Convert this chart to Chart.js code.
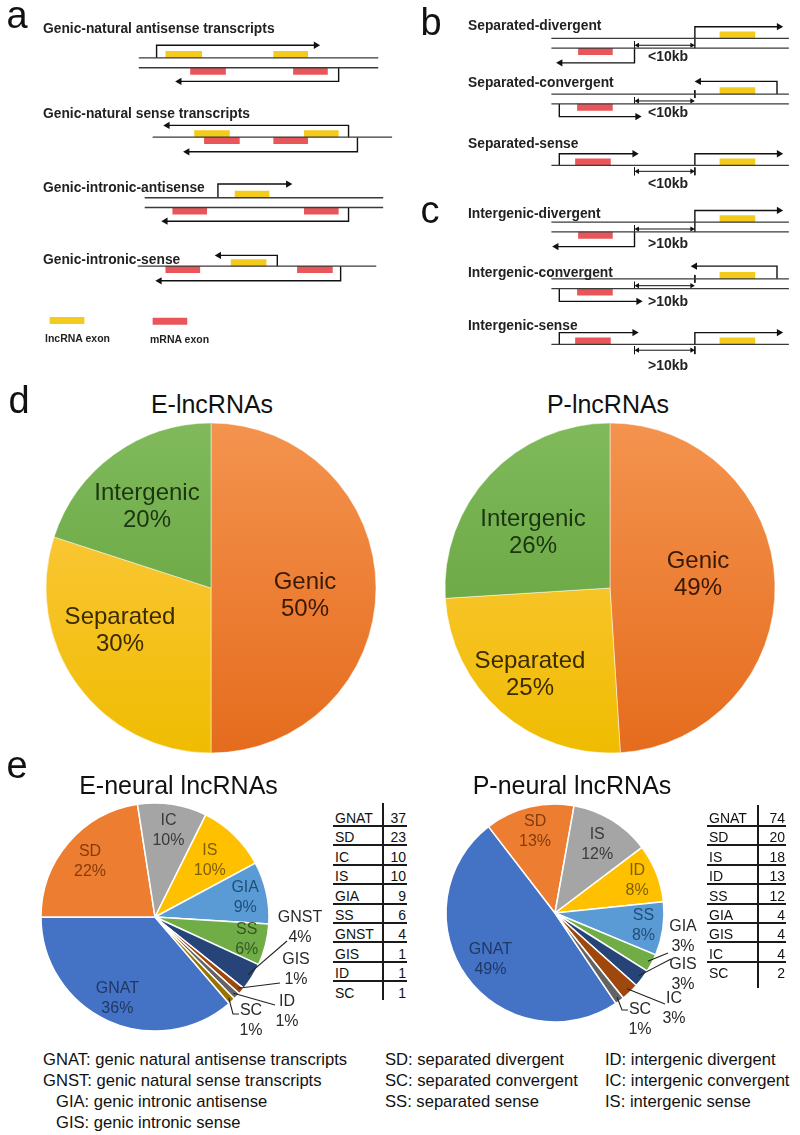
<!DOCTYPE html>
<html><head><meta charset="utf-8">
<script src="https://cdn.jsdelivr.net/npm/chart.js@4.4.0/dist/chart.umd.min.js"></script>
<style>
html,body{margin:0;padding:0;background:#fff;}
#page{position:relative;width:800px;height:1135px;overflow:hidden;font-family:"Liberation Sans",Arial,sans-serif;color:#111;}
canvas{position:absolute;}
.t{position:absolute;white-space:nowrap;}
.ln{position:absolute;background:#1a1a1a;}
</style></head><body><div id="page">
<canvas id="schem" width="800" height="372" style="left:0;top:0"></canvas>
<canvas id="pieE" width="340" height="340" style="left:41px;top:418px"></canvas>
<canvas id="pieP" width="340" height="340" style="left:440px;top:418px"></canvas>
<canvas id="pieEN" width="330" height="250" style="left:0;top:792px"></canvas>
<canvas id="piePN" width="290" height="250" style="left:420px;top:793px"></canvas>
</div>
<script>
// ---------------- DATA ----------------
// Panel d
const dCategories = ['Genic', 'Separated', 'Intergenic'];
const eLncPercent = [50, 30, 20];
const pLncPercent = [49, 25, 26];
// Panel e
const eNeuralCats = ['GNAT', 'SD', 'IC', 'IS', 'GIA', 'SS', 'GNST', 'GIS', 'ID', 'SC'];
const eNeuralCounts = [37, 23, 10, 10, 9, 6, 4, 1, 1, 1];
const eNeuralPct = [36, 22, 10, 10, 9, 6, 4, 1, 1, 1];
const pNeuralCats = ['GNAT', 'SD', 'IS', 'ID', 'SS', 'GIA', 'GIS', 'IC', 'SC'];
const pNeuralCounts = [74, 20, 18, 13, 12, 4, 4, 4, 2];
const pNeuralPct = [49, 13, 12, 8, 8, 3, 3, 3, 1];
// Abbreviation key
const keyCol1 = ['GNAT: genic natural antisense transcripts', 'GNST: genic natural sense transcripts', 'GIA: genic intronic antisense', 'GIS: genic intronic sense'];
const keyCol2 = ['SD: separated divergent', 'SC: separated convergent', 'SS: separated sense'];
const keyCol3 = ['ID: intergenic divergent', 'IC: intergenic convergent', 'IS: intergenic sense'];

// Schematic (panels a-c) in diagram units
const strandLines = [ // [x1, x2, y]
  [136,378,55],[136,378,65],[150,392,136],[142,383,198],[142,383,208],[135,376,268],
  [553,793,35],[553,793,45],[553,793,92],[553,793,102],[553,793,165],
  [553,793,223],[553,793,233],[553,793,281],[553,793,291],[553,793,348]
];
const lncExons = [ // [x1, x2, strandY, side]
  [163,200,55,-1],[272,307,55,-1],[192,228,136,-1],[303,338,136,-1],[233,268,198,-1],[229,265,268,-1],
  [723,759,35,-1],[723,759,92,-1],[723,759,165,-1],[723,759,223,-1],[723,759,281,-1],[723,759,348,-1],
  [46,81,327,-1]
];
const mExons = [
  [188,224,65,1],[292,327,65,1],[202,238,136,1],[272,307,136,1],[170,205,208,1],[303,338,208,1],
  [163,198,268,1],[296,332,268,1],
  [580,615,45,1],[579,615,102,1],[577,613,165,-1],[580,615,233,1],[579,615,291,1],[577,613,348,-1],
  [150,185,321,1]
];
const transcripts = [ // [xStart, yStart, yTurn, xEnd]
  [154,55,42,315],[338,65,79,177],[348,136,124,165],[357,136,151,185],
  [216,198,184,287],[348,208,222,163],[276,268,257,217],[340,268,283,157],
  [698,45,23,783],[637,45,60,562],[781,92,79,702],[561,102,115,640],
  [561,165,153,637],[698,165,153,783],
  [698,233,211,783],[637,233,248,558],[781,281,268,698],[561,291,304,641],
  [561,348,336,637],[698,348,336,783]
];
const spacerTicks = [ // [x, y1, y2]
  [637,38,45],[637,95,102],[698,88,96],[637,167,175],[698,167,175],
  [637,226,233],[637,284,291],[698,277,285],[637,350,358],[698,350,358]
];
const spacerArrows = [ // [x1, x2, y]
  [637,698,42],[637,698,99],[637,698,171],[637,698,230],[637,698,288],[637,698,354]
];

// ---------------- HELPERS ----------------
const pageEl = document.getElementById('page');
function addText(txt, x, y, size, o = {}) {
  const d = document.createElement('div');
  d.className = 't';
  d.textContent = txt;
  d.style.fontSize = size + 'px';
  d.style.lineHeight = size + 'px';
  d.style.top = (y - size / 2) + 'px';
  if (o.bold) d.style.fontWeight = 'bold';
  if (o.color) d.style.color = o.color;
  if (o.family) d.style.fontFamily = o.family;
  d.style.left = x + 'px';
  if (o.align === 'center') d.style.transform = 'translateX(-50%)';
  else if (o.align === 'right') d.style.transform = 'translateX(-100%)';
  pageEl.appendChild(d);
  return d;
}
function addLine(x, y, w, h) {
  const d = document.createElement('div');
  d.className = 'ln';
  d.style.left = x + 'px'; d.style.top = y + 'px';
  d.style.width = w + 'px'; d.style.height = h + 'px';
  pageEl.appendChild(d);
}

// ---------------- SCHEMATIC (Chart.js scatter) ----------------
const LNC = '#F3CB1D', MRNA = '#E8565A', STRAND = '#3a3a3a', INK = '#111';
const schemDatasets = [];
function lineDS(pts, color, width, radii, rots, extra) {
  return Object.assign({
    data: pts.map(p => ({x: p[0], y: p[1]})),
    showLine: true, borderColor: color, borderWidth: width,
    borderCapStyle: 'butt', borderJoinStyle: 'miter', tension: 0, fill: false,
    pointRadius: radii || 0, pointHoverRadius: radii || 0, pointStyle: 'triangle',
    pointRotation: rots || 0, pointBackgroundColor: color, pointBorderColor: color,
    pointBorderWidth: 0, clip: false
  }, extra || {});
}
strandLines.forEach(s => schemDatasets.push(lineDS([[s[0], s[2]], [s[1], s[2]]], STRAND, 1.3)));
lncExons.forEach(e => schemDatasets.push(lineDS([[e[0], e[2] + e[3] * 3.5], [e[1], e[2] + e[3] * 3.5]], LNC, 7)));
mExons.forEach(e => schemDatasets.push(lineDS([[e[0], e[2] + e[3] * 3.5], [e[1], e[2] + e[3] * 3.5]], MRNA, 7)));
transcripts.forEach(t => {
  const dir = t[3] > t[0] ? 90 : -90;
  schemDatasets.push(lineDS([[t[0], t[1]], [t[0], t[2]], [t[3], t[2]]], INK, 1.4, [0, 0, 4.2], [0, 0, dir]));
});
spacerTicks.forEach(t => schemDatasets.push(lineDS([[t[0], t[1]], [t[0], t[2]]], INK, 1)));
spacerArrows.forEach(a => schemDatasets.push(lineDS([[a[0] + 3, a[2]], [a[1] - 3, a[2]]], INK, 1, [3, 3], [-90, 90])));

new Chart(document.getElementById('schem'), {
  type: 'scatter',
  data: {datasets: schemDatasets},
  options: {
    responsive: false, animation: false, events: [],
    layout: {padding: 0},
    plugins: {legend: {display: false}, tooltip: {enabled: false}},
    scales: {
      x: {type: 'linear', min: 0, max: 800, display: false},
      y: {type: 'linear', min: 0, max: 372, reverse: true, display: false}
    }
  }
});

// Schematic texts
addText('a', 6.5, 14.8, 38);
addText('b', 420.5, 21.8, 38);
addText('c', 420.5, 209.8, 38);
addText('d', 8.5, 399.8, 38);
addText('e', 6.5, 764.8, 38);
const aTitles = [['Genic-natural antisense transcripts', 29], ['Genic-natural sense transcripts', 114], ['Genic-intronic-antisense', 188], ['Genic-intronic-sense', 260]];
aTitles.forEach(t => addText(t[0], 43, t[1], 13.8, {bold: true, color: '#222'}));
const bcTitles = [['Separated-divergent', 26], ['Separated-convergent', 83], ['Separated-sense', 144], ['Intergenic-divergent', 214], ['Intergenic-convergent', 273], ['Intergenic-sense', 326]];
bcTitles.forEach(t => addText(t[0], 468, t[1], 13.8, {bold: true, color: '#222'}));
const distLabels = [['<10kb', 56], ['<10kb', 112], ['<10kb', 183], ['>10kb', 243], ['>10kb', 301], ['>10kb', 365]];
distLabels.forEach(t => addText(t[0], 668, t[1], 14, {bold: true, color: '#222', align: 'center'}));
addText('lncRNA exon', 45, 338, 10.5, {bold: true, color: '#222'});
addText('mRNA exon', 150, 339, 10.5, {bold: true, color: '#222'});

// ---------------- PIE LABEL PLUGIN ----------------
function labelPlugin(id, items, font, lineH) {
  return {
    id: id,
    afterDatasetsDraw(chart) {
      const ctx = chart.ctx;
      const meta = chart.getDatasetMeta(0);
      ctx.save();
      ctx.font = font;
      ctx.textAlign = 'center';
      ctx.textBaseline = 'middle';
      meta.data.forEach((arc, i) => {
        const L = items[i];
        if (!L) return;
        const p = arc.getProps(['x', 'y', 'startAngle', 'endAngle', 'outerRadius'], true);
        const mid = (p.startAngle + p.endAngle) / 2;
        let px, py;
        if (L.pos) { px = p.x + L.pos[0]; py = p.y + L.pos[1]; }
        else { px = p.x + Math.cos(mid) * p.outerRadius * L.f; py = p.y + Math.sin(mid) * p.outerRadius * L.f; }
        if (L.leader) {
          ctx.beginPath();
          ctx.strokeStyle = '#222';
          ctx.lineWidth = 1.1;
          ctx.moveTo(p.x + Math.cos(mid) * p.outerRadius * 0.96, p.y + Math.sin(mid) * p.outerRadius * 0.96);
          L.leader.forEach(q => ctx.lineTo(p.x + q[0], p.y + q[1]));
          ctx.stroke();
        }
        ctx.fillStyle = L.color || '#222';
        const lines = L.text;
        lines.forEach((s, k) => ctx.fillText(s, px, py + (k - (lines.length - 1) / 2) * lineH));
      });
      ctx.restore();
    }
  };
}

function grad(chart, c1, c2) {
  const ca = chart.chartArea;
  if (!ca) return c2;
  const g = chart.ctx.createLinearGradient(0, ca.top, 0, ca.bottom);
  g.addColorStop(0, c1);
  g.addColorStop(1, c2);
  return g;
}
const dGrad = [['#F4944F', '#E56B1C'], ['#FFCB4E', '#EFBC00'], ['#80BA5C', '#5E9C35']];
const dLabelColors = ['#3a1905', '#3a2a00', '#1b3510'];

function makeDPie(canvasId, values, positions, id) {
  const items = values.map((v, i) => ({text: [dCategories[i], v + '%'], pos: positions[i], color: dLabelColors[i]}));
  new Chart(document.getElementById(canvasId), {
    type: 'pie',
    data: {
      labels: dCategories,
      datasets: [{
        data: values,
        backgroundColor: (c) => grad(c.chart, dGrad[c.dataIndex][0], dGrad[c.dataIndex][1]),
        borderColor: 'rgba(255,255,255,0.6)', borderWidth: 0.8
      }]
    },
    options: {
      responsive: false, animation: false, events: [],
      radius: 165, rotation: 0,
      layout: {padding: 0},
      plugins: {legend: {display: false}, tooltip: {enabled: false}}
    },
    plugins: [labelPlugin(id, items, '24px "Liberation Sans", Arial, sans-serif', 27)]
  });
}
makeDPie('pieE', eLncPercent, [[94, 8], [-91, 43], [-64, -81]], 'lblE');
makeDPie('pieP', pLncPercent, [[88, -13], [-80, 87], [-77, -55]], 'lblP');
addText('E-lncRNAs', 212, 404, 25, {align: 'center'});
addText('P-lncRNAs', 608, 404, 25, {align: 'center'});

// ---------------- PANEL e ----------------
const officeColors = ['#4472C4', '#ED7D31', '#A5A5A5', '#FFC000', '#5B9BD5', '#70AD47', '#264478', '#9E480E', '#636363', '#997300'];
const darkLabel = ['#1F3864', '#843C0C', '#3A3A3A', '#7F6000', '#1F4E79', '#375623', '#222', '#222', '#222', '#222'];

function makeEPie(canvasId, cats, counts, pct, rotation, radius, padding, layout, id) {
  const items = cats.map((c, i) => {
    const L = layout[i];
    return Object.assign({text: [c, pct[i] + '%'], color: L.pos ? '#2a2a2a' : darkLabel[i]}, L);
  });
  new Chart(document.getElementById(canvasId), {
    type: 'pie',
    data: {
      labels: cats,
      datasets: [{
        data: counts,
        backgroundColor: officeColors.slice(0, counts.length),
        borderColor: '#fff', borderWidth: 1.5
      }]
    },
    options: {
      responsive: false, animation: false, events: [],
      radius: radius, rotation: rotation,
      layout: {padding: padding},
      plugins: {legend: {display: false}, tooltip: {enabled: false}}
    },
    plugins: [labelPlugin(id, items, '16px "Liberation Sans", Arial, sans-serif', 20)]
  });
}
makeEPie('pieEN', eNeuralCats, eNeuralCounts, eNeuralPct, 139.4, 114, {left: 0, right: 20, top: 0, bottom: 0}, [
  {f: 0.79}, {f: 0.75}, {f: 0.77}, {f: 0.69}, {f: 0.81}, {f: 0.83},
  {pos: [145, 11], leader: [[132, 24]]},
  {pos: [141, 53], leader: [[125, 66]]},
  {pos: [132, 95], leader: [[120, 88]]},
  {pos: [96, 104], leader: [[78, 97], [84, 97]]}
], 'lblEN');
makeEPie('piePN', pNeuralCats, pNeuralCounts, pNeuralPct, 146, 109, {left: 0, right: 20, top: 0, bottom: 10}, [
  {f: 0.73}, {f: 0.77}, {f: 0.74}, {f: 0.81}, {f: 0.82},
  {pos: [128, 24], leader: [[113, 40]]},
  {pos: [128, 62], leader: [[116, 46]]},
  {pos: [119, 96], leader: [[110, 91]]},
  {pos: [85, 107], leader: [[67, 97], [73, 97]]}
], 'lblPN');
addText('E-neural lncRNAs', 178.5, 785, 25, {align: 'center'});
addText('P-neural lncRNAs', 572, 785, 25, {align: 'center'});

// Tables
function makeTable(cats, counts, left, right, vx, vTop, vBottom) {
  const firstLine = 826, step = 19.4;
  cats.forEach((c, i) => {
    const ly = firstLine + step * i;
    addText(c, left + 2, ly - 8, 14, {color: '#111'});
    addText(String(counts[i]), right - 1, ly - 8, 14, {color: '#111', align: 'right'});
    if (i < cats.length - 1) addLine(left, ly - 1, right - left, 2);
  });
  addLine(vx - 1, vTop, 2, vBottom - vTop);
}
makeTable(eNeuralCats, eNeuralCounts, 333, 407, 383, 803, 1000);
makeTable(pNeuralCats, pNeuralCounts, 707, 786, 758, 805, 988);

// Abbreviation key
const keyY = [1060, 1081, 1102, 1123];
keyCol1.forEach((s, i) => addText(s, i < 2 ? 43 : 56, keyY[i], 16.6, {color: '#111'}));
keyCol2.forEach((s, i) => addText(s, 385, keyY[i], 16.6, {color: '#111'}));
keyCol3.forEach((s, i) => addText(s, 605, keyY[i], 16.6, {color: '#111'}));
</script>
</body></html>
